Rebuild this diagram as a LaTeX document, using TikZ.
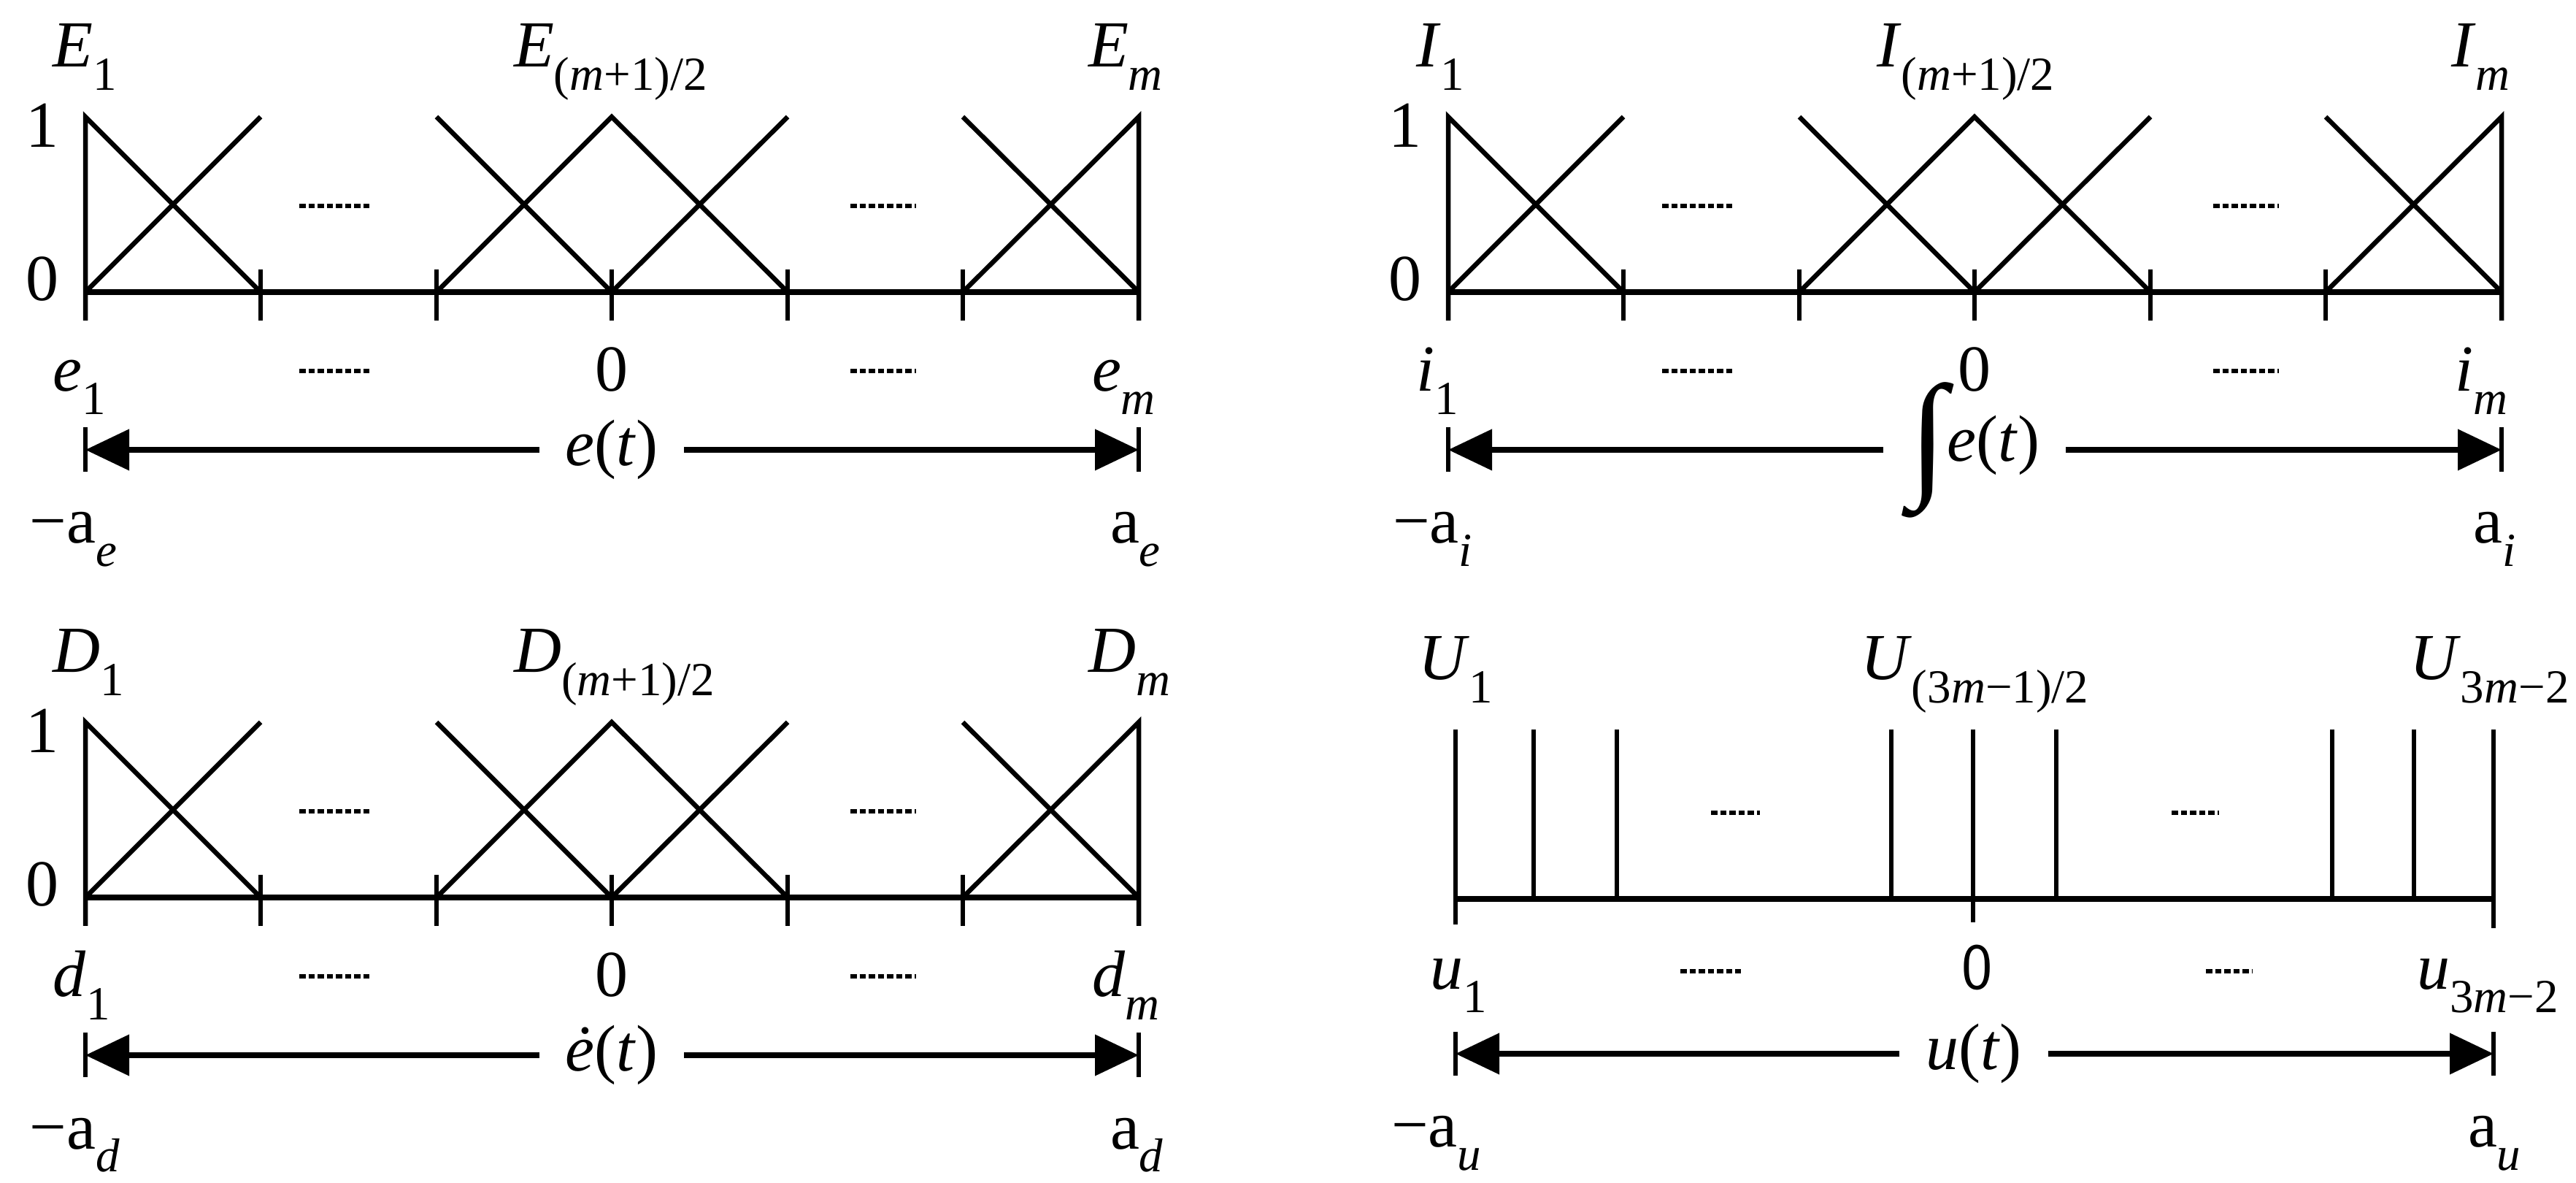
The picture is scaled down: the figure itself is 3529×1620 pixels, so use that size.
\documentclass[tikz,border=0pt]{standalone}
\usepackage{fontspec}
\setmainfont{Liberation Serif}
\usetikzlibrary{arrows.meta}
\newcommand{\mysb}[1]{\raisebox{-0.35em}{\fontsize{13}{13}\selectfont #1}}
\newcommand{\myit}[1]{\textit{#1}}
\tikzset{
  thin line/.style={line width=1.3pt},
  base line/.style={line width=1.5pt},
  lbl/.style={font=\fontsize{18}{18}\selectfont, inner sep=0pt, anchor=base west},
  lblc/.style={font=\fontsize{18}{18}\selectfont, inner sep=0pt},
  dots/.style={line width=1.1pt, dash pattern=on 1.7pt off 0.8pt},
  arr/.style={line width=1.5pt, -{Triangle[length=12pt,width=11pt]}},
}
\begin{document}
\begin{tikzpicture}[x=0.2pt,y=-0.2pt]
\useasboundingbox (0,0) rectangle (3529,1620);
\newcommand{\tripanel}[9]{%
\begin{scope}[shift={(#1,#2)}]
  \coordinate (#3L) at (117,400); \coordinate (#3R) at (1560,400);
  \draw[base line] (#3L) -- (#3R);
  \foreach \x in {117,357,598,838,1079,1319,1560} \draw[thin line] (\x,369) -- (\x,439);
  \draw[thin line] (117,439) -- (117,160) -- (357,400);
  \draw[thin line] (117,400) -- (357,160);
  \draw[thin line] (598,160) -- (838,400);
  \draw[thin line] (598,400) -- (838,160) -- (1079,400);
  \draw[thin line] (838,400) -- (1079,160);
  \draw[thin line] (1319,160) -- (1560,400);
  \draw[thin line] (1319,400) -- (1560,160) -- (1560,439);
  \draw[dots] (410,282) -- (508,282);
  \draw[dots] (1165,282) -- (1255,282);
  \draw[dots] (410,508) -- (508,508);
  \draw[dots] (1165,508) -- (1255,508);
  \node[lblc] (#3one) at (58,172) {1};
  \node[lblc] (#3zero) at (58,382) {0};
  \node[lbl] (#3A) at (72,92) {#4};
  \node[lbl] (#3B) at (703,92) {#5};
  \node[lbl] (#3C) at (1490,92) {#6};
  \node[lbl] (#3a) at (72,536) {#7};
  \node[lblc,anchor=base] (#3z) at (838,536) {0};
  \node[lbl] (#3c) at (1495,536) {#8};
  \draw[thin line] (117,585) -- (117,646);
  \draw[thin line] (1560,585) -- (1560,646);
  \node[lblc] (#3mid) at (838,616) {#9};
  \coordinate (#3al) at (117,616); \coordinate (#3ar) at (1560,616);
  \draw[arr] (#3mid.west) ++(-35,0) -- (#3al);
  \draw[arr] (#3mid.east) ++(35,0) -- (#3ar);
\end{scope}}
\tripanel{0}{0}{p}{\myit{E}\mysb{1}}{\myit{E}\mysb{(\myit{m}+1)/2}}{\myit{E}\mysb{\myit{m}}}{\myit{e}\mysb{1}}{\myit{e}\mysb{\myit{m}}}{\myit{e}(\myit{t})}
\node[lbl] (pam) at (40,744) {−a\mysb{\myit{e}}};
\node[lbl] (pap) at (1520,744) {a\mysb{\myit{e}}};
\tripanel{1867}{0}{q}{\myit{I}\mysb{1}}{\myit{I}\mysb{(\myit{m}+1)/2}}{\myit{I}\mysb{\myit{m}}}{\myit{i}\mysb{1}}{\myit{i}\mysb{\myit{m}}}{\raisebox{-0.3em}{\scalebox{2.1}{∫}}\myit{e}(\myit{t})}
\node[lbl] (qam) at (1907,744) {−a\mysb{\myit{i}}};
\node[lbl] (qap) at (3387,744) {a\mysb{\myit{i}}};
\tripanel{0}{829}{r}{\myit{D}\mysb{1}}{\myit{D}\mysb{(\myit{m}+1)/2}}{\myit{D}\mysb{\myit{m}}}{\myit{d}\mysb{1}}{\myit{d}\mysb{\myit{m}}}{\myit{\.{e}}(\myit{t})}
\node[lbl] (ram) at (40,1573) {−a\mysb{\myit{d}}};
\node[lbl] (rap) at (1520,1573) {a\mysb{\myit{d}}};
\coordinate (sL) at (1994,1231); \coordinate (sR) at (3416,1231);
\draw[base line] (sL) -- (sR);
\foreach \x in {1994,2101,2215,2591,2703,2817,3195,3307,3416} \draw[thin line] (\x,999) -- (\x,1231);
\draw[thin line] (1994,1231) -- (1994,1266);
\draw[thin line] (2703,1231) -- (2703,1263);
\draw[thin line] (3416,1231) -- (3416,1271);
\draw[dots] (2344,1113) -- (2411,1113);
\draw[dots] (2975,1113) -- (3040,1113);
\draw[dots] (2302,1330) -- (2385,1330);
\draw[dots] (3022,1330) -- (3085,1330);
\node[lbl] (sA) at (1942,931) {\myit{U}\mysb{1}};
\node[lbl] (sB) at (2548,931) {\myit{U}\mysb{(3\myit{m}−1)/2}};
\node[lbl] (sC) at (3300,931) {\myit{U}\mysb{3\myit{m}−2}};
\node[lbl] (sa) at (1958,1355) {\myit{u}\mysb{1}};
\node[lblc,anchor=base] (sz) at (2709,1355) {\sffamily 0};
\node[lbl] (sc) at (3310,1355) {\myit{u}\mysb{3\myit{m}−2}};
\draw[thin line] (1994,1413) -- (1994,1473);
\draw[thin line] (3416,1413) -- (3416,1473);
\node[lblc] (smid) at (2704,1443) {\myit{u}(\myit{t})};
\coordinate (sal) at (1994,1443); \coordinate (sar) at (3416,1443);
\draw[arr] (smid.west) ++(-35,0) -- (sal);
\draw[arr] (smid.east) ++(35,0) -- (sar);
\node[lbl] (sam) at (1905,1571) {−a\mysb{\myit{u}}};
\node[lbl] (sap) at (3380,1571) {a\mysb{\myit{u}}};
\end{tikzpicture}
\end{document}
